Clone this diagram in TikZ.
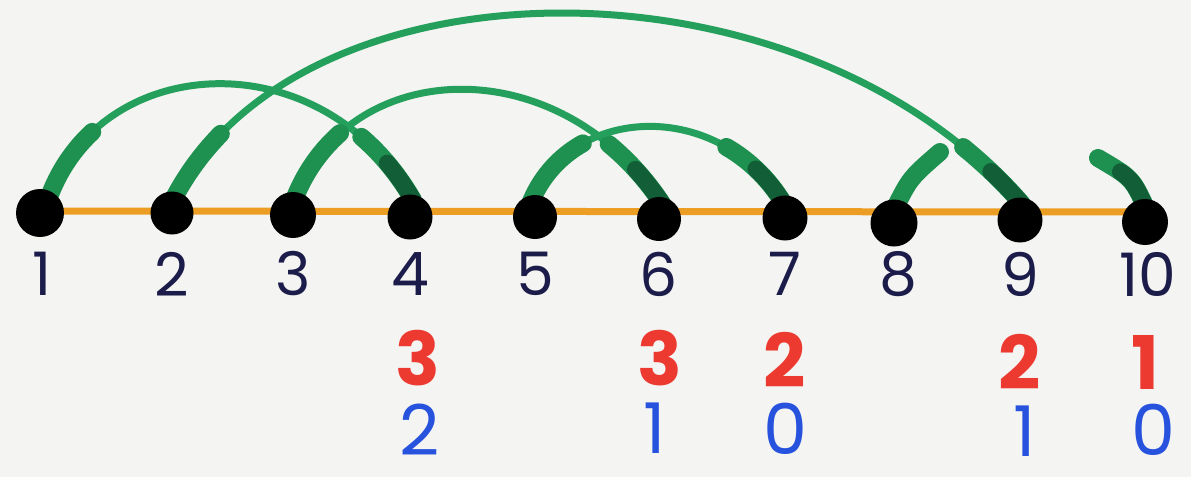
\documentclass[tikz,border=0pt]{standalone}
\usepackage{fontspec}
\setmainfont{Poppins}
\definecolor{paper}{RGB}{244,244,242}
\definecolor{axis}{RGB}{236,158,36}
\definecolor{arcgreen}{RGB}{36,160,92}
\definecolor{stubgreen}{RGB}{30,145,80}
\definecolor{darkgreen}{RGB}{18,95,55}
\definecolor{ink}{RGB}{28,28,75}
\definecolor{redink}{RGB}{236,58,48}
\definecolor{blueink}{RGB}{38,82,222}
\tikzset{
  dot/.style={circle,fill=black,inner sep=0pt},
  arc/.style={draw=arcgreen,line width=7pt,line cap=round},
  stubA/.style={draw=stubgreen,line width=18pt,line cap=round,dash pattern=on 82pt off 9000pt},
  stubB/.style={draw=darkgreen,line width=17pt,line cap=round,dash pattern=on 45pt off 9000pt},
  num/.style={text=ink,inner sep=0pt,font=\fontsize{60}{60}\selectfont},
  rednum/.style={text=redink,inner sep=0pt,font=\fontsize{74}{74}\selectfont\bfseries},
  bluenum/.style={text=blueink,inner sep=0pt,font=\fontsize{70}{70}\selectfont},
}
\begin{document}
\begin{tikzpicture}[x=1pt,y=-1pt]
\useasboundingbox[fill=paper] (0,0) rectangle (1191,477);
% axis
\coordinate (a0) at (40,211);
\coordinate (a1) at (1143,212);
\draw[axis,line width=7pt] (a0) -- (a1);
% arcs
\coordinate (e1) at (48,200);   \coordinate (e4) at (413,200);
\coordinate (e2) at (173,200);  \coordinate (e9) at (1022,204);
\coordinate (e3) at (294,200);  \coordinate (e6) at (663,205);
\coordinate (e5) at (530,204);  \coordinate (e7) at (784,204);
\coordinate (e8) at (894,210);  \coordinate (t8) at (940,152);
\coordinate (e10) at (1146,208);\coordinate (t10) at (1098,158);
\foreach \p/\q/\ca/\cb in {e1/e4/{(100,52)}/{(320,38)},
                          e2/e9/{(300,-48)}/{(800,-52)},
                          e3/e6/{(350,55)}/{(560,48)},
                          e5/e7/{(570,103)}/{(720,98)}}{
  \draw[arc] (\p) .. controls \ca and \cb .. (\q);
  \draw[stubA] (\p) .. controls \ca and \cb .. (\q);
  \draw[stubA] (\q) .. controls \cb and \ca .. (\p);
  \draw[stubB] (\q) .. controls \cb and \ca .. (\p);
}
\draw[stubA] (e8) .. controls (910,178) .. (t8);
\draw[stubA] (e10) .. controls (1132,178) .. (t10);
\draw[stubB] (e10) .. controls (1132,178) .. (t10);
% dots
\node[dot,minimum size=48pt] (n1) at (40,213) {};
\node[dot,minimum size=43pt] (n2) at (172,213) {};
\node[dot,minimum size=46pt] (n3) at (293,215) {};
\node[dot,minimum size=45pt] (n4) at (410,217) {};
\node[dot,minimum size=44pt] (n5) at (535,217) {};
\node[dot,minimum size=44pt] (n6) at (659,219) {};
\node[dot,minimum size=45pt] (n7) at (785,218) {};
\node[dot,minimum size=47pt] (n8) at (894,223) {};
\node[dot,minimum size=45pt] (n9) at (1020,220) {};
\node[dot,minimum size=46pt] (n10) at (1145,222) {};
% labels
\foreach \i/\x in {1/42,2/172,3/293,4/410,5/535,6/659,7/785,8/898,9/1020,10/1148}{
  \node[num] (l\i) at (\x,274) {\i};
}
\node[rednum] (r4) at (418,358) {3};
\node[rednum] (r6) at (660,358) {3};
\node[rednum] (r7) at (785,360) {2};
\node[rednum] (r9) at (1020,362) {2};
\node[rednum] (r10) at (1145,362) {1};
\node[bluenum] (b4) at (420,430) {2};
\node[bluenum] (b6) at (655,428) {1};
\node[bluenum] (b7) at (785,429) {0};
\node[bluenum] (b9) at (1025,431) {1};
\node[bluenum] (b10) at (1153,430) {0};
\end{tikzpicture}
\end{document}
